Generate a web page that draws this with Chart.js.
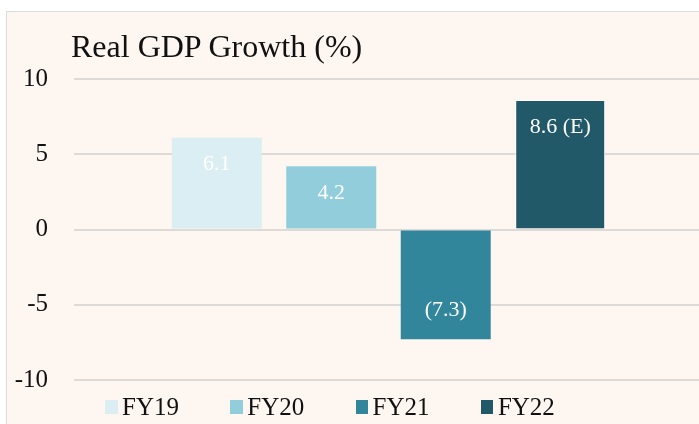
<!DOCTYPE html>
<html>
<head>
<meta charset="utf-8">
<script src="https://cdn.jsdelivr.net/npm/chart.js"></script>
<style>
  html, body { margin: 0; padding: 0; width: 699px; height: 424px; overflow: hidden; background: #fff; font-family: "Liberation Serif", serif; }
  #panel { position: absolute; left: 6px; top: 11px; width: 720px; height: 440px; border: 1.5px solid #dcdcdc; background: #fdf6f1; }
  #wrap { position: absolute; left: 0; top: 0; width: 710px; height: 424px; }
  #title { position: absolute; left: 71px; top: 30px; font-size: 32px; line-height: 32px; color: #111; white-space: nowrap; }
  #legend { position: absolute; left: 105px; top: 395px; display: flex; }
  .item { width: 125.3px; display: flex; align-items: center; font-size: 25px; line-height: 24px; color: #111; }
  .swatch { width: 12.5px; height: 14.5px; margin-right: 4.5px; }
</style>
</head>
<body>
<div id="panel"></div>
<div id="wrap"><canvas id="gdpChart"></canvas></div>
<div id="title">Real GDP Growth (%)</div>
<div id="legend"></div>
<script>
// dados do gráfico
const categories = ['FY19', 'FY20', 'FY21', 'FY22'];
const growth = [6.1, 4.2, -7.3, 8.6];
const barLabels = ['6.1', '4.2', '(7.3)', '8.6 (E)'];
const colors = ['#daeef3', '#92cddc', '#31869b', '#215968'];
const yTicks = [-10, -5, 0, 5, 10];

Chart.defaults.font.family = '"Liberation Serif", serif';

// legenda em HTML
const legend = document.getElementById('legend');
categories.forEach((name, i) => {
    const item = document.createElement('div');
    item.className = 'item';
    item.innerHTML = `<span class="swatch" style="background:${colors[i]}"></span><span>${name}</span>`;
    legend.appendChild(item);
});

// rótulos dentro das barras
const barText = {
    id: 'barText',
    afterDatasetsDraw(chart) {
        const ctx = chart.ctx;
        ctx.save();
        ctx.font = '22px "Liberation Serif"';
        ctx.fillStyle = '#fff';
        ctx.textAlign = 'center';
        ctx.textBaseline = 'middle';
        chart.data.datasets.forEach((ds, i) => {
            const bar = chart.getDatasetMeta(i).data[0];
            const off = growth[i] >= 0 ? 27 : -29;
            ctx.fillText(barLabels[i], bar.x, bar.y + off);
        });
        ctx.restore();
    }
};

new Chart(document.getElementById('gdpChart'), {
    type: 'bar',
    data: {
        labels: [''],
        datasets: categories.map((name, i) => ({
            label: name,
            data: [growth[i]],
            backgroundColor: colors[i],
            borderColor: '#fff',
            borderWidth: i === 3 ? 1 : 0
        }))
    },
    options: {
        responsive: true,
        maintainAspectRatio: false,
        animation: false,
        categoryPercentage: 0.728,
        barPercentage: 0.786,
        layout: { padding: { top: 79, bottom: 44, right: 7, left: 0 } },
        scales: {
            x: { display: false },
            y: {
                min: -10,
                max: 10,
                afterFit: axis => { axis.width = 74; },
                afterBuildTicks: axis => { axis.ticks = yTicks.map(v => ({ value: v })); },
                grid: { color: '#dddad7', lineWidth: 2, drawTicks: false },
                border: { display: false },
                ticks: { color: '#111', padding: 26, font: { size: 25 } }
            }
        },
        plugins: {
            legend: { display: false },
            tooltip: { enabled: false }
        }
    },
    plugins: [barText]
});
</script>
</body>
</html>
